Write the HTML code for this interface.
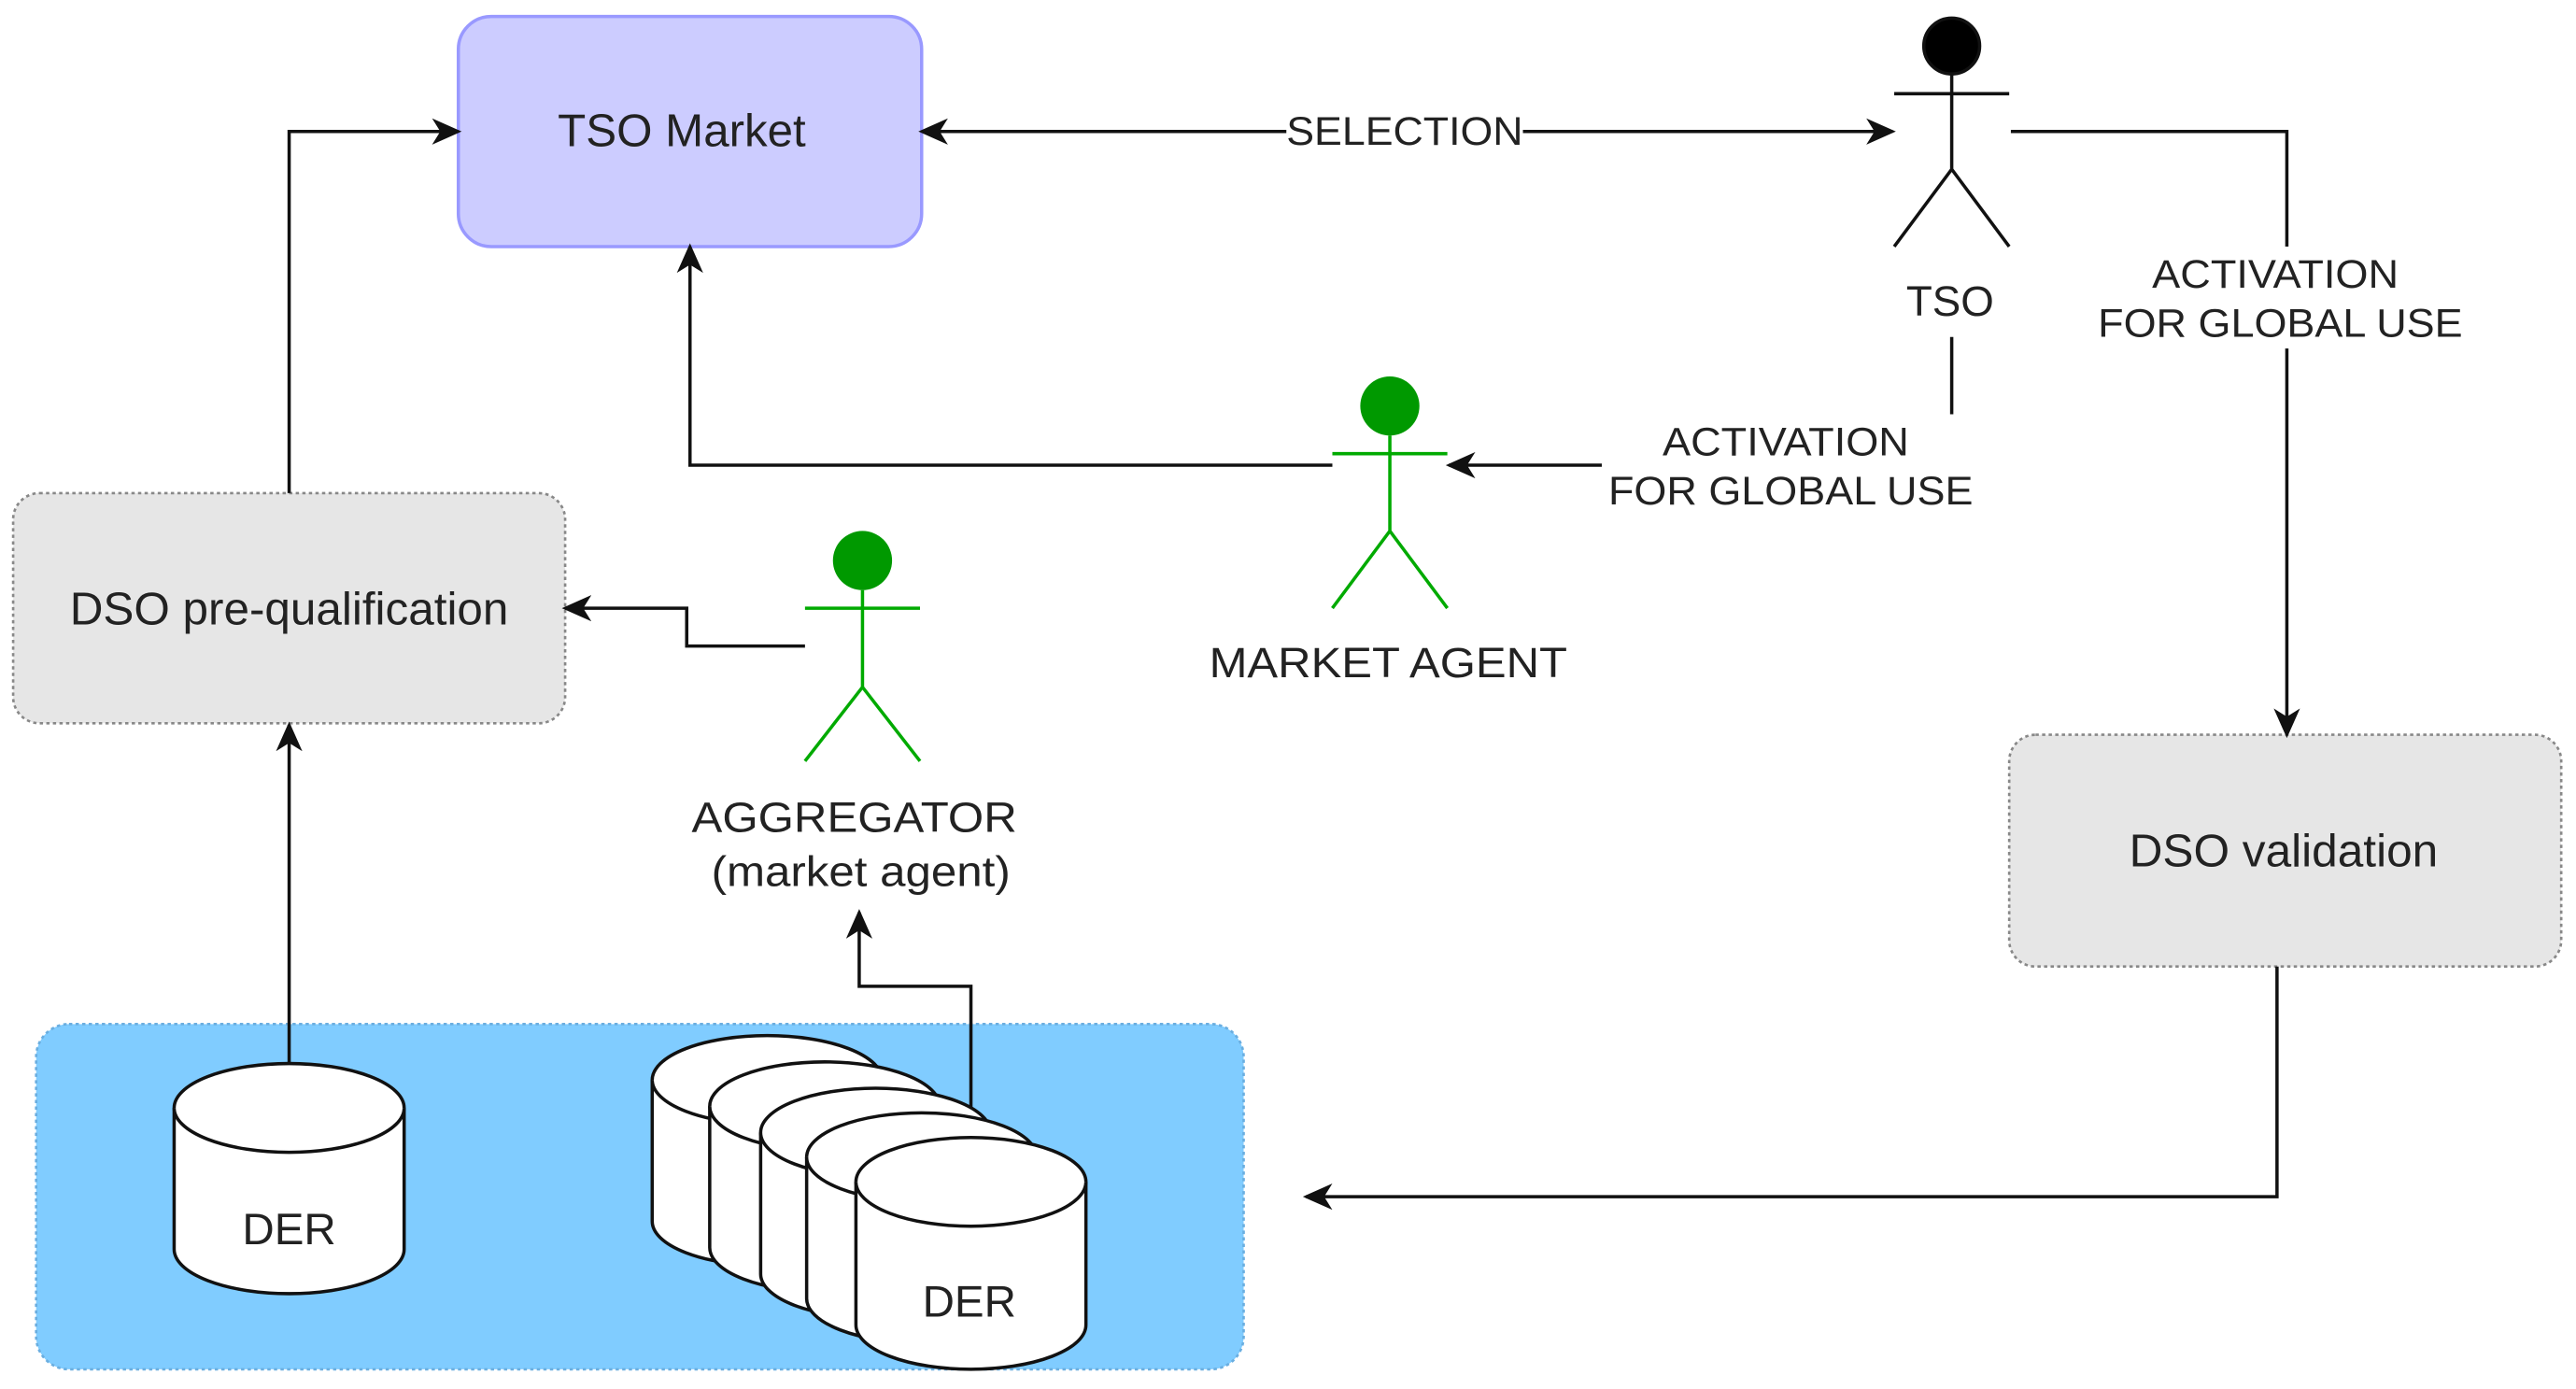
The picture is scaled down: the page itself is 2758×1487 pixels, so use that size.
<!DOCTYPE html>
<html><head><meta charset="utf-8"><style>html,body{margin:0;padding:0;background:#fff}svg{display:block}</style></head>
<body>
<svg width="2758" height="1487" viewBox="0 0 1568 845" preserveAspectRatio="none" xmlns="http://www.w3.org/2000/svg" font-family="Liberation Sans, Arial, sans-serif" fill="none">
<defs>
<marker id="a" markerWidth="18" markerHeight="16" refX="16" refY="8" orient="auto" markerUnits="userSpaceOnUse">
<path d="M0,0 L18,8 L0,16 L5,8 Z" fill="#111"/>
</marker>
<marker id="as" markerWidth="18" markerHeight="16" refX="2" refY="8" orient="auto" markerUnits="userSpaceOnUse">
<path d="M18,0 L0,8 L18,16 L13,8 Z" fill="#111"/>
</marker>
</defs>
<rect x="22" y="623" width="735" height="210" rx="20" fill="#80ccff" stroke="#6aaee0" stroke-width="1.5" stroke-dasharray="2,2"/>
<rect x="279" y="10" width="282" height="140" rx="20" fill="#ccccff" stroke="#9999ff" stroke-width="2"/>
<text x="415" y="89" font-size="28" fill="#222" text-anchor="middle" textLength="151" lengthAdjust="spacingAndGlyphs">TSO Market</text>
<rect x="8" y="300" width="336" height="140" rx="16" fill="#e6e6e6" stroke="#888" stroke-width="1.5" stroke-dasharray="2,2"/>
<text x="176" y="380" font-size="28" fill="#222" text-anchor="middle" textLength="267" lengthAdjust="spacingAndGlyphs">DSO pre-qualification</text>
<rect x="1223" y="447" width="336" height="141" rx="16" fill="#e6e6e6" stroke="#888" stroke-width="1.5" stroke-dasharray="2,2"/>
<text x="1390" y="527" font-size="28" fill="#222" text-anchor="middle" textLength="188" lengthAdjust="spacingAndGlyphs">DSO validation</text>
<g stroke="#111" stroke-width="2">
<path d="M176,648 V441" marker-end="url(#a)"/>
<path d="M176,300 V80 H279" marker-end="url(#a)"/>
<path d="M490,393 H418 V370 H344" marker-end="url(#a)"/>
<path d="M591,680 V600 H523 V555" marker-end="url(#a)"/>
<path d="M811,283 H420 V150" marker-end="url(#a)"/>
<path d="M1188,205 V252"/>
<path d="M975,283 H882" marker-end="url(#a)"/>
<path d="M561,80 H1152" marker-start="url(#as)" marker-end="url(#a)"/>
<path d="M1224,80 H1392 V447" marker-end="url(#a)"/>
<path d="M1386,588 V728 H795" marker-end="url(#a)"/>
</g>
<rect x="783" y="66" width="144" height="28" fill="#fff"/>
<text x="855" y="88" font-size="24" fill="#222" text-anchor="middle" textLength="144" lengthAdjust="spacingAndGlyphs">SELECTION</text>
<rect x="1276" y="150" width="226" height="62" fill="#fff"/>
<text x="1385" y="175" font-size="24" fill="#222" text-anchor="middle" textLength="150" lengthAdjust="spacingAndGlyphs">ACTIVATION</text>
<text x="1388" y="205" font-size="24" fill="#222" text-anchor="middle" textLength="222" lengthAdjust="spacingAndGlyphs">FOR GLOBAL USE</text>
<text x="1087" y="277" font-size="24" fill="#222" text-anchor="middle" textLength="150" lengthAdjust="spacingAndGlyphs">ACTIVATION</text>
<text x="1090" y="307" font-size="24" fill="#222" text-anchor="middle" textLength="222" lengthAdjust="spacingAndGlyphs">FOR GLOBAL USE</text>
<g stroke="#111" stroke-width="2">
<circle cx="1188" cy="28" r="17" fill="#000"/>
<path d="M1188,45 V103 M1153,57 H1223 M1153,150 L1188,103 L1223,150"/>
</g>
<text x="1187" y="192" font-size="26" fill="#222" text-anchor="middle">TSO</text>
<g stroke="#00aa00" stroke-width="2">
<circle cx="846" cy="247" r="18" fill="#009900" stroke="none"/>
<path d="M846,265 V323 M811,276 H881 M811,370 L846,323 L881,370"/>
<circle cx="525" cy="341" r="18" fill="#009900" stroke="none"/>
<path d="M525,359 V418 M490,370 H560 M490,463 L525,418 L560,463"/>
</g>
<text x="845" y="412" font-size="26" fill="#222" text-anchor="middle" textLength="218" lengthAdjust="spacingAndGlyphs">MARKET AGENT</text>
<text x="520" y="506" font-size="26" fill="#222" text-anchor="middle" textLength="198" lengthAdjust="spacingAndGlyphs">AGGREGATOR</text>
<text x="524" y="539" font-size="26" fill="#222" text-anchor="middle" textLength="182" lengthAdjust="spacingAndGlyphs">(market agent)</text>
<g stroke="#111" stroke-width="2" fill="#fff">
<path d="M106,674 A70,27 0 0 1 246,674 V760 A70,27 0 0 1 106,760 Z"/>
<path d="M106,674 A70,27 0 0 0 246,674"/>
<path d="M397,657 A70,27 0 0 1 537,657 V743 A70,27 0 0 1 397,743 Z"/><path d="M397,657 A70,27 0 0 0 537,657"/>
<path d="M432,673 A70,27 0 0 1 572,673 V759 A70,27 0 0 1 432,759 Z"/><path d="M432,673 A70,27 0 0 0 572,673"/>
<path d="M463,689 A70,27 0 0 1 603,689 V775 A70,27 0 0 1 463,775 Z"/><path d="M463,689 A70,27 0 0 0 603,689"/>
<path d="M491,704 A70,27 0 0 1 631,704 V790 A70,27 0 0 1 491,790 Z"/><path d="M491,704 A70,27 0 0 0 631,704"/>
<path d="M521,719 A70,27 0 0 1 661,719 V806 A70,27 0 0 1 521,806 Z"/><path d="M521,719 A70,27 0 0 0 661,719"/>
</g>
<text x="176" y="757" font-size="27" fill="#222" text-anchor="middle">DER</text>
<text x="590" y="801" font-size="27" fill="#222" text-anchor="middle">DER</text>
</svg>
</body></html>
